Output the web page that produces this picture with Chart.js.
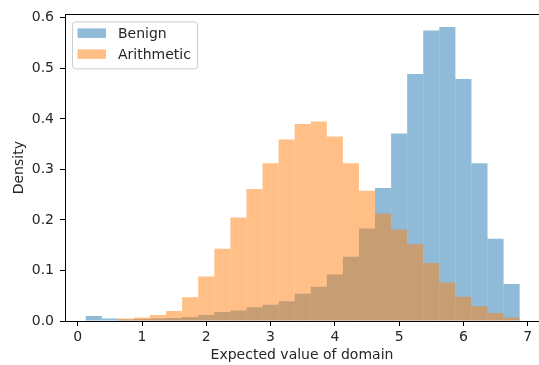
<!DOCTYPE html>
<html>
<head>
<meta charset="utf-8">
<script src="https://cdn.jsdelivr.net/npm/chart.js@4/dist/chart.umd.min.js"></script>
<style>
  html, body { margin: 0; padding: 0; background: #ffffff; }
  canvas { display: block; }
</style>
</head>
<body>
<canvas id="hist" width="539" height="365"></canvas>
<script>
// Bin centres of the histogram (bin width 0.25)
const binCenters = [0.25, 0.50, 0.75, 1.00, 1.25, 1.50, 1.75, 2.00, 2.25, 2.50,
                    2.75, 3.00, 3.25, 3.50, 3.75, 4.00, 4.25, 4.50, 4.75, 5.00,
                    5.25, 5.50, 5.75, 6.00, 6.25, 6.50, 6.75];

// Density per bin
const benignDensity = [0.010, 0.005, 0.003, 0.004, 0.005, 0.006, 0.008, 0.012, 0.018, 0.021,
                       0.027, 0.032, 0.039, 0.054, 0.068, 0.092, 0.127, 0.183, 0.263, 0.371,
                       0.489, 0.575, 0.582, 0.479, 0.312, 0.163, 0.073];
const arithmeticDensity = [0.000, 0.000, 0.005, 0.007, 0.012, 0.020, 0.047, 0.088, 0.143, 0.205,
                           0.261, 0.312, 0.359, 0.390, 0.395, 0.365, 0.312, 0.258, 0.213, 0.181,
                           0.152, 0.115, 0.076, 0.048, 0.029, 0.016, 0.007];

const seriesLabels = ['Benign', 'Arithmetic'];
const xTickValues = [0, 1, 2, 3, 4, 5, 6, 7];
const yTickValues = [0.0, 0.1, 0.2, 0.3, 0.4, 0.5, 0.6];

const FONT = 'DejaVu Sans';
const TEXT = '#262626';

function points(values) {
  return binCenters.map((c, i) => ({ x: c, y: values[i] }));
}

// Top spine of the axes box
const topSpine = {
  id: 'topSpine',
  afterDraw(chart) {
    const { ctx, chartArea } = chart;
    ctx.save();
    ctx.strokeStyle = '#000000';
    ctx.lineWidth = 1;
    ctx.beginPath();
    ctx.moveTo(chartArea.left, Math.round(chartArea.top) + 0.5);
    ctx.lineTo(chartArea.right, Math.round(chartArea.top) + 0.5);
    ctx.stroke();
    ctx.restore();
  }
};

// Legend drawn inside the axes, upper left
const insideLegend = {
  id: 'insideLegend',
  afterDraw(chart) {
    const { ctx, chartArea } = chart;
    const x0 = chartArea.left + 7.5, y0 = chartArea.top + 7.5;
    const w = 125, h = 47, r = 3;
    ctx.save();
    ctx.beginPath();
    ctx.moveTo(x0 + r, y0);
    ctx.lineTo(x0 + w - r, y0);
    ctx.arcTo(x0 + w, y0, x0 + w, y0 + r, r);
    ctx.lineTo(x0 + w, y0 + h - r);
    ctx.arcTo(x0 + w, y0 + h, x0 + w - r, y0 + h, r);
    ctx.lineTo(x0 + r, y0 + h);
    ctx.arcTo(x0, y0 + h, x0, y0 + h - r, r);
    ctx.lineTo(x0, y0 + r);
    ctx.arcTo(x0, y0, x0 + r, y0, r);
    ctx.closePath();
    ctx.fillStyle = 'rgba(255,255,255,0.8)';
    ctx.fill();
    ctx.strokeStyle = '#cccccc';
    ctx.lineWidth = 1;
    ctx.stroke();
    ctx.font = '14px "' + FONT + '"';
    ctx.textBaseline = 'alphabetic';
    ctx.textAlign = 'left';
    chart.data.datasets.forEach((ds, i) => {
      const rowY = y0 + 6.5 + i * 21;
      ctx.fillStyle = ds.backgroundColor;
      ctx.fillRect(x0 + 5, rowY, 28.5, 9.5);
      ctx.fillStyle = TEXT;
      ctx.fillText(ds.label, x0 + 45.5, rowY + 9.5);
    });
    ctx.restore();
  }
};

new Chart(document.getElementById('hist'), {
  type: 'bar',
  data: {
    datasets: [
      {
        label: seriesLabels[0],
        data: points(benignDensity),
        backgroundColor: 'rgba(31,119,180,0.5)',
        order: 1
      },
      {
        label: seriesLabels[1],
        data: points(arithmeticDensity),
        backgroundColor: 'rgba(255,127,14,0.5)',
        order: 0
      }
    ]
  },
  options: {
    responsive: false,
    animation: false,
    devicePixelRatio: 1,
    layout: { padding: { left: 0, right: 0, top: 12, bottom: 0 } },
    datasets: {
      bar: {
        grouped: false,
        barPercentage: 1,
        categoryPercentage: 1,
        borderWidth: 0,
        inflateAmount: 0
      }
    },
    plugins: {
      legend: { display: false },
      tooltip: { enabled: false }
    },
    scales: {
      x: {
        type: 'linear',
        offset: false,
        min: -0.198,
        max: 7.176,
        afterBuildTicks(scale) { scale.ticks = xTickValues.map(v => ({ value: v })); },
        afterFit(scale) { scale.height = 44; },
        grid: {
          offset: false,
          drawOnChartArea: false,
          drawTicks: true,
          tickLength: 5,
          tickColor: '#000000'
        },
        border: { display: true, color: '#000000', width: 1 },
        ticks: {
          color: TEXT,
          font: { family: FONT, size: 14 },
          padding: 3,
          maxRotation: 0,
          autoSkip: false,
          callback: v => String(v)
        },
        title: {
          display: true,
          text: 'Expected value of domain',
          color: TEXT,
          font: { family: FONT, size: 14 },
          padding: { top: 0, bottom: 1 }
        }
      },
      y: {
        type: 'linear',
        min: 0,
        max: 0.6068,
        afterBuildTicks(scale) { scale.ticks = yTickValues.map(v => ({ value: v })); },
        afterFit(scale) { scale.width = 65; },
        grid: {
          drawOnChartArea: false,
          drawTicks: true,
          tickLength: 5,
          tickColor: '#000000'
        },
        border: { display: true, color: '#000000', width: 1 },
        ticks: {
          color: TEXT,
          font: { family: FONT, size: 14 },
          padding: 6,
          autoSkip: false,
          callback: v => Number(v).toFixed(1)
        },
        title: {
          display: true,
          text: 'Density',
          color: TEXT,
          font: { family: FONT, size: 14 },
          padding: { top: 10.5, bottom: 0 }
        }
      }
    }
  },
  plugins: [topSpine, insideLegend]
});
</script>
</body>
</html>
